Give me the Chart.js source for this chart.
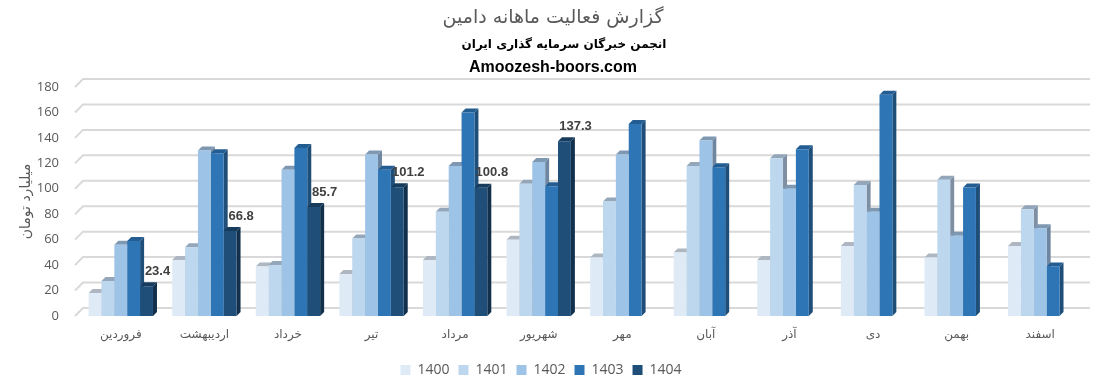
<!DOCTYPE html>
<html>
<head>
<meta charset="utf-8">
<script src="https://cdn.jsdelivr.net/npm/chart.js@4.4.1/dist/chart.umd.min.js"></script>
<style>
  html, body { margin: 0; padding: 0; background: #fff; }
  #wrap { width: 1120px; height: 387px; }
</style>
</head>
<body>
<div id="wrap"><canvas id="myChart" width="1120" height="387"></canvas></div>
<script>
// months (Persian calendar)
const months = ['فروردین', 'اردیبهشت', 'خرداد', 'تیر', 'مرداد', 'شهریور', 'مهر', 'آبان', 'آذر', 'دی', 'بهمن', 'اسفند'];
const years = ['1400', '1401', '1402', '1403', '1404'];

// values in billion toman
const y1400 = [18, 44, 39, 33, 44, 60, 46, 50, 44, 55, 46, 55];
const y1401 = [27.5, 54, 40, 61, 82, 104, 90, 118, 124, 103, 107, 84];
const y1402 = [56, 130, 115, 127, 118, 121, 127, 138, 100, 82, 63, 69];
const y1403 = [59, 128, 132, 115, 160, 102, 151, 117, 131, 174, 101, 39];
const y1404 = [23.4, 66.8, 85.7, 101.2, 100.8, 137.3, null, null, null, null, null, null];

const yTicks = [0, 20, 40, 60, 80, 100, 120, 140, 160, 180];

const headerLines = ['گزارش فعالیت ماهانه دامین', 'انجمن خبرگان سرمایه گذاری ایران', 'Amoozesh-boors.com'];

const frontColors = ['#deebf7', '#bdd7ee', '#9dc3e6', '#2e75b6', '#1f4e79'];
const topColors = ['#aeb7c1', '#93a6ba', '#7f98b2', '#235d92', '#173b5c'];
const sideColors = ['#9aa5b1', '#7f8fa3', '#6f86a0', '#1f4e79', '#12304b'];

const DEPTH = 4;      // 3d bar depth
const WALL = 8;       // back wall offset for gridlines

const header = {
  id: 'header',
  afterDraw(chart) {
    const ctx = chart.ctx;
    const cx = 553;
    ctx.save();
    ctx.textAlign = 'center';
    ctx.textBaseline = 'middle';
    ctx.fillStyle = '#595959';
    ctx.font = '19px "DejaVu Sans", sans-serif';
    ctx.fillText(headerLines[0], cx, 18);
    ctx.fillStyle = '#000';
    ctx.font = 'bold 12px "DejaVu Sans", sans-serif';
    ctx.fillText(headerLines[1], 564, 45);
    ctx.font = 'bold 16px "Liberation Sans", Arial, sans-serif';
    ctx.fillText(headerLines[2], cx, 68);
    ctx.restore();
  }
};

const threeD = {
  id: 'threeD',
  beforeDatasetsDraw(chart) {
    const ctx = chart.ctx;
    const area = chart.chartArea;
    const yScale = chart.scales.y;
    // back wall gridlines
    ctx.save();
    ctx.strokeStyle = '#d9d9d9';
    ctx.lineWidth = 2;
    yTicks.forEach((t) => {
      const y = yScale.getPixelForValue(t);
      ctx.beginPath();
      ctx.moveTo(area.left - 4, y);
      ctx.lineTo(area.left + 4, y - WALL);
      ctx.lineTo(area.right + WALL, y - WALL);
      ctx.stroke();
    });
    // side and top faces, left to right so later bars cover earlier ones
    chart.data.datasets.forEach((ds, i) => {
      const meta = chart.getDatasetMeta(i);
      meta.data.forEach((bar, j) => {
        if (ds.data[j] == null) return;
        const l = bar.x - bar.width / 2;
        const r = bar.x + bar.width / 2;
        const top = bar.y;
        const base = bar.base;
        ctx.fillStyle = sideColors[i];
        ctx.beginPath();
        ctx.moveTo(r, top);
        ctx.lineTo(r + DEPTH, top - DEPTH);
        ctx.lineTo(r + DEPTH, base - DEPTH);
        ctx.lineTo(r, base);
        ctx.closePath();
        ctx.fill();
        ctx.fillStyle = topColors[i];
        ctx.beginPath();
        ctx.moveTo(l, top);
        ctx.lineTo(l + DEPTH, top - DEPTH);
        ctx.lineTo(r + DEPTH, top - DEPTH);
        ctx.lineTo(r, top);
        ctx.closePath();
        ctx.fill();
      });
    });
    ctx.restore();
  },
  afterDatasetsDraw(chart) {
    // value labels on the 1404 series
    const ctx = chart.ctx;
    const idx = chart.data.datasets.length - 1;
    const meta = chart.getDatasetMeta(idx);
    ctx.save();
    ctx.font = 'bold 13px "Liberation Sans", Arial, sans-serif';
    ctx.fillStyle = '#404040';
    ctx.textAlign = 'center';
    ctx.textBaseline = 'middle';
    meta.data.forEach((bar, j) => {
      const v = chart.data.datasets[idx].data[j];
      if (v == null) return;
      ctx.fillText(v.toFixed(1), bar.x + 11, bar.y - 15);
    });
    ctx.restore();
  }
};

const series = [y1400, y1401, y1402, y1403, y1404];
const datasets = series.map((d, i) => ({
  label: years[i],
  data: d,
  backgroundColor: frontColors[i],
  borderWidth: 0,
  barPercentage: 1.0,
  categoryPercentage: 0.77
}));

const ctx = document.getElementById('myChart').getContext('2d');
const myChart = new Chart(ctx, {
  type: 'bar',
  data: { labels: months, datasets: datasets },
  options: {
    responsive: false,
    animation: false,
    layout: { padding: { left: 0, right: 38, top: 87, bottom: 0 } },
    plugins: {
      title: { display: false },
      legend: {
        position: 'bottom',
        labels: {
          boxWidth: 10,
          boxHeight: 10,
          padding: 9,
          color: '#595959',
          font: { family: '"Open Sans", sans-serif', size: 14 }
        }
      },
      tooltip: { enabled: false }
    },
    scales: {
      x: {
        afterFit: (scale) => { scale.height = 38; },
        grid: { display: false },
        border: { display: false },
        ticks: {
          color: '#595959',
          padding: 4,
          font: { family: '"DejaVu Sans", sans-serif', size: 12 }
        }
      },
      y: {
        min: 0,
        max: 180,
        afterFit: (scale) => { scale.width = 79; },
        grid: { display: false },
        border: { display: false },
        ticks: {
          stepSize: 20,
          color: '#595959',
          padding: 12,
          font: { family: '"Open Sans", sans-serif', size: 13 }
        },
        title: {
          display: true,
          text: 'میلیارد تومان',
          color: '#595959',
          padding: { top: 18, bottom: 0 },
          font: { family: '"DejaVu Sans", sans-serif', size: 14 }
        }
      }
    }
  },
  plugins: [threeD, header]
});
</script>
</body>
</html>
